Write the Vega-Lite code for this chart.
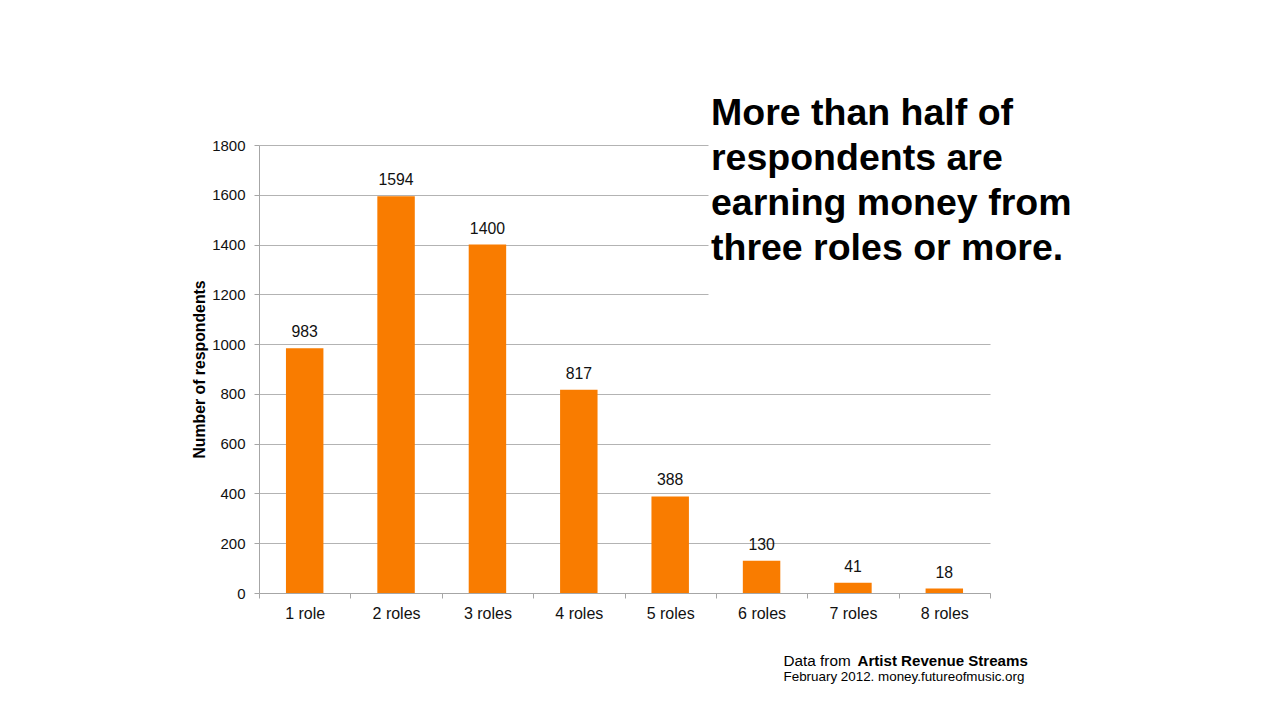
{
  "$schema": "https://vega.github.io/schema/vega-lite/v6.json",
  "width": 731,
  "height": 448,
  "autosize": "none",
  "padding": {"left": 259, "top": 145, "right": 293, "bottom": 126},
  "background": "white",
  "config": {"font": "Liberation Sans", "view": {"stroke": null}},
  "title": {
    "text": ["More than half of", "respondents are", "earning money from", "three roles or more."],
    "fontSize": 37.5,
    "fontWeight": "bold",
    "lineHeight": 45.3,
    "anchor": "start",
    "frame": "group",
    "dx": 452,
    "dy": 160,
    "offset": 0,
    "baseline": "alphabetic",
    "color": "#000000"
  },
  "data": {
    "values": [
      {"roles": "1 role", "count": 983},
      {"roles": "2 roles", "count": 1594},
      {"roles": "3 roles", "count": 1400},
      {"roles": "4 roles", "count": 817},
      {"roles": "5 roles", "count": 388},
      {"roles": "6 roles", "count": 130},
      {"roles": "7 roles", "count": 41},
      {"roles": "8 roles", "count": 18}
    ]
  },
  "layer": [
    {
      "mark": {"type": "bar", "color": "#F97C00", "width": {"band": 0.41}},
      "encoding": {
        "x": {
          "field": "roles",
          "type": "nominal",
          "sort": null,
          "scale": {"paddingInner": 0, "paddingOuter": 0},
          "axis": {
            "orient": "bottom",
            "labelAngle": 0,
            "labelFontSize": 16,
            "labelColor": "#111111",
            "labelPadding": 7,
            "tickBand": "extent",
            "tickSize": 5,
            "tickColor": "#a6a6a6",
            "domainColor": "#a6a6a6",
            "grid": false,
            "title": "Data from",
            "titleFontSize": 15.3,
            "titleFontWeight": "normal",
            "titleX": 524,
            "titleY": 72,
            "titleAlign": "left",
            "titleBaseline": "alphabetic",
            "titleColor": "#000000"
          }
        },
        "y": {
          "field": "count",
          "type": "quantitative",
          "scale": {"domain": [0, 1800], "nice": false},
          "axis": {
            "orient": "left",
            "values": [0, 200, 400, 600, 800, 1000, 1200, 1400, 1600, 1800],
            "format": "d",
            "labelFontSize": 15,
            "labelColor": "#111111",
            "labelPadding": 9,
            "tickSize": 5,
            "tickColor": "#a6a6a6",
            "domainColor": "#a6a6a6",
            "gridColor": "#b3b3b3",
            "gridDash": {"condition": {"test": "datum.value >= 1200", "value": [449, 2000]}, "value": []},
            "title": "Number of respondents",
            "titleFontSize": 15.8,
            "titleFontWeight": "bold",
            "titleColor": "#000000",
            "titleAngle": -90,
            "titleX": -55,
            "titleY": 224,
            "titleAlign": "center",
            "titleBaseline": "alphabetic"
          }
        }
      }
    },
    {
      "mark": {"type": "text", "dy": -11, "baseline": "alphabetic", "fontSize": 15.8, "color": "#111111"},
      "encoding": {
        "x": {
          "field": "roles",
          "type": "nominal",
          "sort": null,
          "axis": {
            "orient": "top",
            "labels": false,
            "ticks": false,
            "domain": false,
            "grid": false,
            "title": "February 2012. money.futureofmusic.org",
            "titleFontSize": 13.4,
            "titleFontWeight": "normal",
            "titleX": 524,
            "titleY": 535,
            "titleAlign": "left",
            "titleBaseline": "alphabetic",
            "titleColor": "#000000"
          }
        },
        "y": {
          "field": "count",
          "type": "quantitative",
          "axis": {
            "orient": "right",
            "labels": false,
            "ticks": false,
            "domain": false,
            "grid": false,
            "title": "Artist Revenue Streams",
            "titleFontSize": 15.1,
            "titleFontWeight": "bold",
            "titleColor": "#000000",
            "titleAngle": 0,
            "titleX": -133,
            "titleY": 520,
            "titleAlign": "left",
            "titleBaseline": "alphabetic"
          }
        },
        "text": {"field": "count", "type": "quantitative"}
      }
    }
  ],
  "resolve": {"axis": {"x": "independent", "y": "independent"}}
}
